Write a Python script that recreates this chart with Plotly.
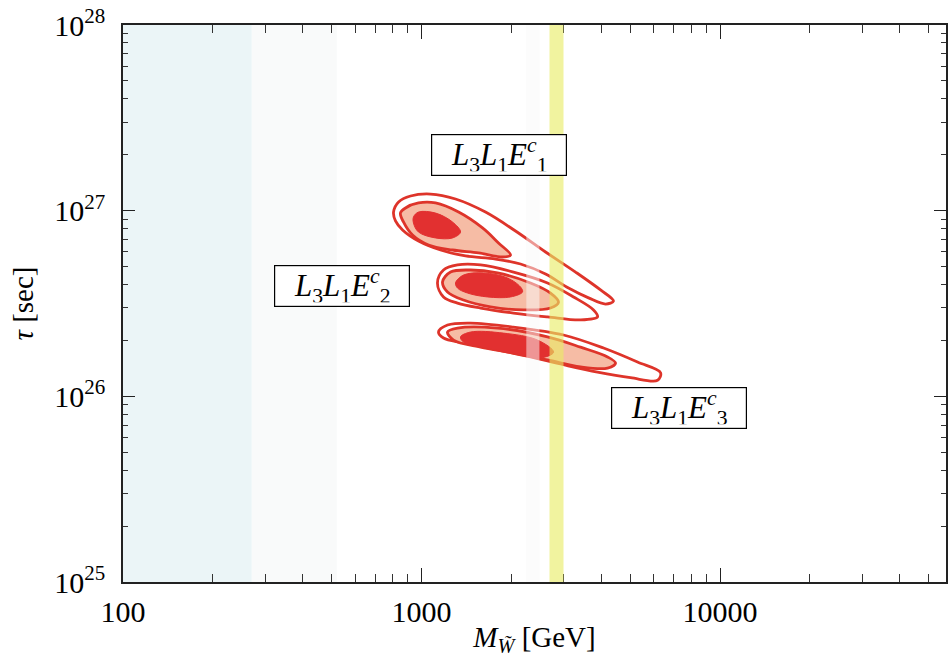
import math
import plotly.graph_objects as go

# ---------------- data ----------------
# mass in GeV, lifetime in seconds; contours of the three operators
e1_outer_m = [4397, 3979, 3281, 2603, 2065, 1638, 1300, 1072, 919, 838, 806,
              818, 864, 977, 1158, 1404, 1770, 2146, 2603, 3108, 3627, 4135, 4397]
e1_outer_tau = [3.26e26, 3.74e26, 4.67e26, 5.99e26, 7.77e26, 9.83e26, 11.56e26, 12.29e26, 11.99e26, 11.13e26, 9.83e26,
                8.80e26, 7.87e26, 6.86e26, 6.14e26, 5.70e26, 5.49e26, 5.16e26, 4.56e26, 3.83e26, 3.39e26, 3.14e26, 3.26e26]
e1_mid_m = [1987, 1811, 1601, 1331, 1114, 977, 884, 850, 870, 933, 1056, 1270, 1552, 1868, 1987]
e1_mid_tau = [5.77e26, 6.70e26, 8.07e26, 9.83e26, 11.00e26, 11.00e26, 10.34e26, 9.71e26,
              8.69e26, 7.39e26, 6.53e26, 6.14e26, 5.92e26, 5.63e26, 5.77e26]
e1_core_m = [1351, 1270, 1114, 977, 940, 940, 977, 1114, 1270, 1351]
e1_core_tau = [7.67e26, 8.69e26, 9.71e26, 9.83e26, 9.25e26, 8.58e26, 7.67e26, 7.13e26, 7.13e26, 7.67e26]

e2_outer_m = [3888, 3769, 3230, 2643, 2033, 1577, 1320, 1185, 1131, 1185, 1320, 1577, 2033, 2643, 3410, 3888]
e2_outer_tau = [2.68e26, 2.92e26, 3.43e26, 4.08e26, 4.67e26, 5.10e26, 5.10e26, 4.79e26, 4.08e26,
                3.43e26, 3.18e26, 2.99e26, 2.81e26, 2.68e26, 2.58e26, 2.68e26]
e2_mid_m = [2877, 2705, 2318, 1797, 1460, 1251, 1176, 1222, 1382, 1703, 2196, 2705, 2877]
e2_mid_tau = [3.22e26, 3.60e26, 4.08e26, 4.62e26, 4.79e26, 4.67e26, 4.13e26, 3.65e26, 3.30e26,
              3.03e26, 2.92e26, 2.99e26, 3.22e26]
e2_core_m = [2180, 2146, 1941, 1613, 1382, 1300, 1320, 1426, 1664, 1987, 2180]
e2_core_tau = [3.65e26, 3.88e26, 4.34e26, 4.62e26, 4.50e26, 4.08e26, 3.83e26, 3.60e26, 3.43e26, 3.43e26, 3.65e26]

e3_outer_m = [6321, 5291, 4072, 2990, 2033, 1460, 1222, 1140, 1185, 1382, 1797, 2318, 2990, 3888, 5014, 6176, 6321]
e3_outer_tau = [1.34e26, 1.53e26, 1.82e26, 2.14e26, 2.36e26, 2.48e26, 2.42e26, 2.22e26, 2.06e26,
                1.94e26, 1.78e26, 1.63e26, 1.48e26, 1.35e26, 1.26e26, 1.22e26, 1.34e26]
e3_mid_m = [4467, 4200, 3410, 2643, 1797, 1320, 1222, 1280, 1577, 2033, 2643, 3410, 4200, 4467]
e3_mid_tau = [1.51e26, 1.63e26, 1.84e26, 2.09e26, 2.33e26, 2.33e26, 2.22e26, 2.01e26, 1.84e26,
              1.71e26, 1.57e26, 1.44e26, 1.42e26, 1.51e26]
e3_core_m = [2769, 2447, 1882, 1460, 1351, 1382, 1613, 2033, 2505, 2769]
e3_core_tau = [1.73e26, 2.01e26, 2.19e26, 2.22e26, 2.09e26, 1.96e26, 1.84e26, 1.71e26, 1.61e26, 1.73e26]

# excluded / reference regions (GeV)
blue_band = [100, 270]
grey_band = [270, 520]
strip_band = [2244, 2483]
yellow_band = [2684, 2990]

# labels
label_text = ["<i>L</i><sub>3</sub><i>L</i><sub>1</sub><i>E</i><sup><i>c</i></sup><sub>1</sub>",
              "<i>L</i><sub>3</sub><i>L</i><sub>1</sub><i>E</i><sup><i>c</i></sup><sub>2</sub>",
              "<i>L</i><sub>3</sub><i>L</i><sub>1</sub><i>E</i><sup><i>c</i></sup><sub>3</sub>"]
label_m = [1811, 541, 7290]
label_tau = [2.0e27, 3.93e26, 8.65e25]

x_tickvals = [100, 1000, 10000]
x_ticktext = ["100", "1000", "10000"]
y_tickvals = [1e25, 1e26, 1e27, 1e28]
y_ticktext = ["10<sup>25</sup>", "10<sup>26</sup>", "10<sup>27</sup>", "10<sup>28</sup>"]

# ---------------- figure ----------------
RED = "rgb(222,52,42)"
PINK = "rgb(246,188,165)"
CORE = "rgb(226,48,48)"
FONT = "Liberation Serif"

fig = go.Figure()

blobs = [
    (e1_outer_m, e1_outer_tau, e1_mid_m, e1_mid_tau, e1_core_m, e1_core_tau),
    (e2_outer_m, e2_outer_tau, e2_mid_m, e2_mid_tau, e2_core_m, e2_core_tau),
    (e3_outer_m, e3_outer_tau, e3_mid_m, e3_mid_tau, e3_core_m, e3_core_tau),
]
for om, ot, mm, mt, cm, ct in blobs:
    fig.add_trace(go.Scatter(x=om, y=ot, mode="lines", line=dict(color=RED, width=2.8, shape="spline", smoothing=1.0),
                             hoverinfo="skip", showlegend=False))
for om, ot, mm, mt, cm, ct in blobs:
    fig.add_trace(go.Scatter(x=mm, y=mt, mode="lines", fill="toself", fillcolor=PINK,
                             line=dict(color=RED, width=2.8, shape="spline", smoothing=1.0),
                             hoverinfo="skip", showlegend=False))
    fig.add_trace(go.Scatter(x=cm, y=ct, mode="lines", fill="toself", fillcolor=CORE,
                             line=dict(color=CORE, width=1, shape="spline", smoothing=1.0),
                             hoverinfo="skip", showlegend=False))

shapes = [
    dict(type="rect", xref="x", yref="paper", x0=blue_band[0], x1=blue_band[1], y0=0, y1=1,
         fillcolor="rgb(235,245,247)", line=dict(width=0), layer="below"),
    dict(type="rect", xref="x", yref="paper", x0=grey_band[0], x1=grey_band[1], y0=0, y1=1,
         fillcolor="rgb(249,250,250)", line=dict(width=0), layer="below"),
    dict(type="rect", xref="x", yref="paper", x0=strip_band[0], x1=strip_band[1], y0=0, y1=1,
         fillcolor="rgba(250,250,250,0.5)", line=dict(width=0), layer="above"),
    dict(type="rect", xref="x", yref="paper", x0=yellow_band[0], x1=yellow_band[1], y0=0, y1=1,
         fillcolor="rgba(232,235,100,0.62)", line=dict(width=0), layer="above"),
]

annotations = []
for t, m, tau in zip(label_text, label_m, label_tau):
    annotations.append(dict(x=math.log10(m), y=math.log10(tau), xref="x", yref="y", text=t, showarrow=False,
                            font=dict(family=FONT, size=31, color="black"),
                            width=126, height=32, align="center", valign="middle",
                            bgcolor="white", bordercolor="black", borderwidth=1.2, borderpad=4))

def minor_vals(lo_exp, hi_exp):
    return [k * 10.0 ** e for e in range(lo_exp, hi_exp) for k in range(2, 10)]

fig.update_layout(
    width=948, height=665,
    margin=dict(l=123, r=2, t=25, b=83),
    paper_bgcolor="white", plot_bgcolor="white",
    shapes=shapes, annotations=annotations,
    font=dict(family=FONT, size=29, color="black"),
    xaxis=dict(type="log", range=[2, 4.757], tickvals=x_tickvals, ticktext=x_ticktext,
               ticks="inside", ticklen=14, tickwidth=1.2, tickcolor="#222",
               showline=True, linecolor="#222", linewidth=1.5, mirror="ticks",
               showgrid=False, zeroline=False, automargin=False, ticklabelstandoff=2,
               minor=dict(tickvals=minor_vals(2, 5), ticks="inside", ticklen=8, tickcolor="#333", tickwidth=1),
               tickfont=dict(family=FONT, size=30),
               title=dict(text="<i>M</i><sub><i>W̃</i></sub> [GeV]", font=dict(family=FONT, size=29), standoff=0)),
    yaxis=dict(type="log", range=[25, 28], tickvals=y_tickvals, ticktext=y_ticktext,
               ticks="inside", ticklen=12, tickwidth=1.2, tickcolor="#222",
               showline=True, linecolor="#222", linewidth=1.5, mirror="ticks",
               showgrid=False, zeroline=False, automargin=False, ticklabelstandoff=10,
               minor=dict(tickvals=minor_vals(25, 28), ticks="inside", ticklen=5, tickcolor="#333", tickwidth=1),
               tickfont=dict(family=FONT, size=30),
               title=dict(text="<i>τ</i> [sec]", font=dict(family=FONT, size=29), standoff=12)),
)

fig.write_html("out.html", config={"displayModeBar": False},
               post_script="document.body.style.margin='0px';document.body.style.overflow='hidden';")
